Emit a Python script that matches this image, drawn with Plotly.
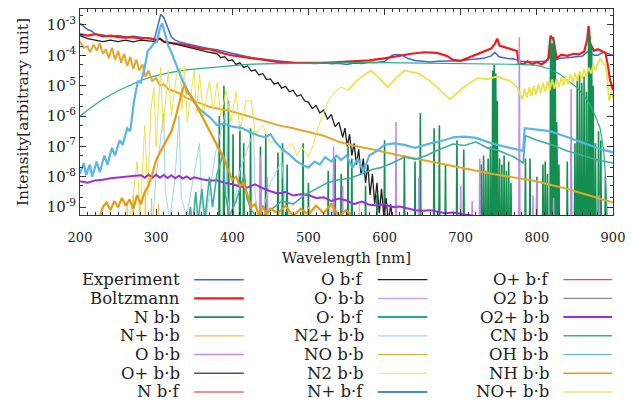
import plotly.graph_objects as go

# ---------------- data: (wavelength nm, log10 intensity) ----------------
experiment = [(200,-2.95),(205,-3.05),(210,-3.15),(215,-3.2),(220,-3.3),(230,-3.33),(240,-3.38),(250,-3.35),(260,-3.4),
    (270,-3.37),(280,-3.42),(290,-3.45),(298,-3.45),(302,-3.0),(306,-2.65),(310,-2.75),(315,-3.1),(320,-3.4),(325,-3.5),
    (330,-3.55),(340,-3.62),(350,-3.68),(360,-3.72),(370,-3.78),(380,-3.82),(390,-3.88),(400,-3.95),(410,-4.0),(420,-4.05),
    (430,-4.1),(440,-4.13),(450,-4.17),(460,-4.2),(470,-4.22),(480,-4.24),(490,-4.25),(500,-4.25),(510,-4.27),(520,-4.24),
    (530,-4.28),(540,-4.26),(550,-4.3),(560,-4.25),(570,-4.27),(580,-4.23),(590,-4.24),(600,-4.2),(605,-4.1),(610,-4.0),
    (615,-3.97),(620,-3.98),(625,-4.02),(630,-4.1),(640,-4.17),(650,-4.2),(660,-4.22),(670,-4.2),(680,-4.2),(690,-4.18),
    (700,-4.18),(710,-4.15),(720,-4.13),(730,-4.1),(740,-4.02),(745,-3.9),(750,-4.05),(760,-4.1),(770,-4.12),(775,-4.15),
    (780,-4.2),(790,-4.22),(800,-4.2),(810,-4.2),(815,-4.15),(820,-3.75),(825,-4.15),(830,-4.1),(840,-4.08),(850,-4.05),
    (860,-4.02),(868,-3.85),(875,-4.0),(880,-4.0),(887,-3.9),(893,-3.95),(900,-4.0)]
boltzmann = [(200,-3.3),(210,-3.35),(220,-3.3),(230,-3.38),(240,-3.35),(250,-3.4),(260,-3.42),(270,-3.4),(280,-3.45),
    (290,-3.43),(300,-3.5),(305,-3.45),(310,-3.55),(320,-3.6),(330,-3.62),(340,-3.68),(350,-3.72),(360,-3.78),(370,-3.8),
    (380,-3.88),(390,-3.95),(400,-4.0),(420,-4.08),(440,-4.15),(460,-4.22),(480,-4.25),(500,-4.26),(520,-4.25),(540,-4.22),
    (560,-4.2),(580,-4.17),(600,-4.1),(617,-4.02),(635,-3.95),(652,-3.9),(669,-3.92),(682,-4.02),(690,-4.15),(700,-4.18),
    (710,-4.08),(722,-3.96),(730,-3.88),(740,-3.78),(745,-3.62),(748,-3.45),(751,-3.68),(760,-3.75),(770,-3.82),(774,-3.86),
    (776,-4.25),(782,-4.3),(788,-4.2),(794,-4.3),(800,-4.22),(806,-4.3),(812,-4.2),(815,-4.1),(818,-3.35),(822,-3.5),
    (826,-4.1),(832,-3.98),(840,-4.02),(848,-3.95),(855,-3.97),(862,-3.88),(866,-3.5),(868,-3.03),(870,-3.6),(875,-3.85),
    (880,-3.8),(885,-3.85),(890,-3.92),(893,-4.3),(896,-4.8),(900,-5.15)]
o_bf = [(200,-3.35),(210,-3.45),(220,-3.5),(230,-3.55),(240,-3.5),(250,-3.55),(260,-3.5),(270,-3.56),(280,-3.5),(290,-3.53),
    (300,-3.55),(305,-3.45),(310,-3.55),(320,-3.6),(330,-3.66),(340,-3.72),(350,-3.8),(360,-3.85),(370,-3.9),(380,-3.95),
    (385,-4.08),(390,-4.05),(395,-4.18),(400,-4.15),(405,-4.3),(410,-4.25),(415,-4.4),(420,-4.35),(425,-4.52),(430,-4.48),
    (435,-4.65),(440,-4.6),(445,-4.8),(450,-4.78),(455,-4.95),(460,-4.9),(465,-5.08),(470,-5.02),(475,-5.2),(480,-5.15),
    (485,-5.35),(490,-5.3),(495,-5.5),(500,-5.55),(505,-5.75),(510,-5.65),(515,-5.9),(520,-5.8),(525,-6.1),(530,-5.95),
    (535,-6.35),(540,-6.2),(545,-6.7),(548,-6.4),(551,-7.0),(554,-6.6),(557,-7.3),(560,-6.9),(563,-7.6),(566,-7.1),
    (569,-7.9),(572,-7.4),(575,-8.2),(578,-7.6),(581,-8.6),(584,-7.9),(587,-8.9),(590,-8.2),(593,-9.2),(596,-8.4),
    (599,-9.3),(602,-8.7),(605,-9.5),(608,-8.9),(611,-9.6)]
oneg_bf = [(200,-6.0),(210,-5.8),(220,-5.62),(230,-5.45),(240,-5.3),(250,-5.17),(260,-5.05),(270,-4.93),(280,-4.83),
    (290,-4.74),(300,-4.67),(320,-4.56),(340,-4.48),(360,-4.43),(380,-4.38),(400,-4.33),(420,-4.3),(440,-4.28),(460,-4.27),
    (500,-4.25),(550,-4.24),(600,-4.24),(650,-4.25),(700,-4.26),(750,-4.28),(780,-4.3),(800,-4.33),(817,-4.45),(830,-4.62),
    (839,-4.8),(852,-5.05),(861,-5.3),(869,-5.6),(876,-5.95),(883,-6.4),(887,-7.0),(889,-7.5),(891,-8.5),(893,-9.6)]
no_bb = [(200,-3.55),(205,-3.75),(210,-3.7),(213,-3.9),(218,-3.65),(222,-3.85),(226,-3.6),(230,-3.95),(234,-3.8),
    (238,-4.1),(242,-3.75),(246,-4.15),(250,-3.85),(254,-4.25),(258,-3.95),(262,-4.35),(266,-4.05),(270,-4.45),(274,-4.15),
    (278,-4.5),(282,-4.3),(286,-4.7),(290,-4.5),(295,-4.85),(300,-4.75),(305,-5.0),(310,-4.95),(315,-5.1),(320,-5.15),
    (330,-5.25),(340,-5.4),(350,-5.5),(360,-5.62),(370,-5.7),(380,-5.75),(390,-5.8),(400,-5.85),(420,-6.0),(440,-6.15),
    (460,-6.3),(480,-6.4),(500,-6.52),(520,-6.65),(540,-6.85),(560,-6.98),(580,-7.08),(600,-7.2),(620,-7.3),(640,-7.4),
    (660,-7.5),(680,-7.6),(700,-7.72),(720,-7.8),(740,-7.9),(760,-7.98),(780,-8.07),(800,-8.15),(820,-8.28),(840,-8.4),
    (860,-8.55),(880,-8.7),(900,-8.85)]
nh_bb = [(225,-9.4),(230,-9.0),(235,-8.85),(240,-9.1),(245,-8.8),(250,-9.0),(255,-8.7),(260,-8.95),(265,-8.75),(270,-9.05),
    (275,-8.6),(280,-8.9),(285,-8.5),(290,-8.3),(295,-7.9),(300,-7.45),(305,-7.2),(310,-6.95),(315,-6.7),(320,-6.5),
    (325,-6.1),(330,-5.6),(335,-5.1),(338,-5.0),(341,-5.25),(345,-5.3),(350,-5.5),(355,-5.75),(360,-6.0),(365,-6.2),
    (370,-6.5),(375,-6.7),(380,-7.0),(385,-7.25),(390,-7.45),(395,-7.8),(400,-8.1),(405,-8.0),(410,-8.3),(415,-8.2),
    (420,-8.6),(425,-9.0),(430,-8.9),(435,-9.3),(440,-8.95),(445,-9.25),(450,-9.05),(460,-9.2),(470,-8.95),(480,-9.3),
    (490,-9.05),(500,-9.25),(510,-8.95),(520,-9.2),(530,-8.9),(540,-9.3),(550,-9.1),(560,-9.4),(570,-9.6)]
oh_bb = [(200,-7.9),(205,-7.55),(208,-7.95),(213,-7.6),(216,-8.0),(222,-7.5),(226,-7.85),(232,-7.3),(236,-7.6),(242,-7.05),
    (246,-7.3),(252,-6.8),(256,-6.95),(262,-6.4),(266,-6.5),(271,-5.5),(276,-4.85),(280,-4.9),(285,-4.4),(289,-3.85),
    (293,-3.75),(297,-3.6),(301,-3.55),(305,-3.1),(308,-2.95),(312,-3.3),(316,-3.7),(320,-3.9),(328,-4.4),(334,-4.8),
    (341,-5.15),(350,-5.55),(358,-5.8),(371,-6.05),(380,-6.3),(390,-6.25),(400,-6.35),(413,-6.4),(425,-6.55),(435,-6.65),
    (444,-6.7),(450,-6.6),(458,-6.9),(466,-7.1),(474,-7.25),(485,-7.5),(495,-7.65),(500,-7.7),(508,-7.5),(515,-7.6),
    (522,-7.35),(530,-7.5),(537,-7.3),(543,-7.45),(550,-7.3),(558,-7.7),(565,-7.4),(572,-7.85),(580,-7.3),(590,-7.15),
    (600,-6.95),(612,-6.9),(626,-6.95),(640,-7.05),(647,-7.0),(660,-6.9),(678,-6.8),(690,-6.7),(705,-6.68),(720,-6.72),
    (735,-6.85),(748,-6.95),(765,-7.05),(782,-7.15),(784,-6.4),(800,-6.45),(817,-6.5),(835,-6.65),(852,-6.8),(870,-6.95),
    (885,-7.1),(900,-7.2)]
cn_bb = [(340,-9.8),(345,-9.0),(348,-9.6),(352,-8.5),(355,-9.5),(360,-8.4),(364,-9.4),(370,-8.0),(374,-9.0),(380,-7.9),
    (385,-7.5),(388,-7.2),(391,-8.6),(396,-9.3),(405,-8.8),(412,-8.2),(416,-7.9),(419,-8.7),(425,-9.1),(435,-9.4),
    (450,-9.1),(465,-8.8),(480,-8.9),(495,-8.6),(510,-8.4),(525,-8.2),(540,-8.1),(555,-8.05),(570,-7.9),(585,-7.75),
    (595,-7.7),(610,-7.55),(626,-7.35),(640,-7.42),(655,-7.3),(670,-7.12),(690,-6.92),(705,-6.97),(720,-6.85),(735,-7.05),
    (748,-7.12),(760,-7.25),(770,-7.35),(782,-7.55),(785,-6.65),(800,-6.8),(820,-6.95),(840,-7.15),(860,-7.3),(880,-7.45),
    (900,-7.55)]
n2p_bb = [(295,-9.6),(300,-8.0),(310,-5.9),(312,-8.5),(318,-9.4),(325,-8.0),(330,-6.0),(333,-8.7),(340,-9.3),(352,-7.6),
    (357,-6.9),(360,-8.9),(365,-9.4),(378,-7.2),(388,-6.2),(391,-5.9),(393,-8.5),(398,-9.5),(410,-7.8),(424,-6.8),
    (428,-6.5),(430,-8.6),(436,-9.5),(450,-8.2),(465,-7.5),(470,-8.9),(480,-9.6)]
# N2 second-positive part (drawn thin) and first-positive part (drawn thick)
n2_bb_uv = [(265,-9.6),(275,-7.5),(279,-9.3),(285,-6.3),(289,-8.6),(293,-5.8),(297,-5.05),(300,-7.0),(306,-4.4),(309,-6.5),
    (316,-4.5),(320,-6.0),(327,-4.6),(332,-4.4),(334,-5.8),(337,-4.35),(341,-6.2),(350,-4.5),(353,-5.9),(357,-4.6),
    (362,-6.0),(370,-4.85),(375,-5.8),(380,-4.9),(385,-6.0),(392,-5.15),(398,-6.2),(405,-5.2),(410,-6.5),(418,-5.5),
    (425,-5.5),(430,-6.6),(440,-6.3),(450,-6.9),(457,-6.8),(465,-7.2),(478,-6.9),(485,-7.3),(491,-7.0),(500,-7.35),
    (507,-6.9),(513,-6.35),(520,-5.9),(526,-5.5),(535,-5.2),(543,-5.05),(552,-5.15)]
n2_bb_vis = [(552,-5.15),(565,-4.8),(582,-4.5),(593,-4.75),
    (604,-5.05),(615,-4.75),(626,-4.5),(645,-4.6),(660,-4.85),(669,-5.05),(686,-5.45),(695,-5.25),(704,-5.05),(722,-4.75),
    (735,-4.78),(748,-4.7),(765,-4.85),(774,-5.05),(778,-5.25),(781,-5.45),(784,-5.1),(787,-5.4),(790,-5.05),(793,-5.35),
    (796,-5.0),(799,-5.3),(802,-4.95),(805,-5.25),(808,-4.9),(811,-5.2),(814,-4.85),(817,-5.15),(820,-4.8),(823,-5.1),
    (826,-4.78),(829,-5.05),(832,-4.72),(835,-5.0),(838,-4.68),(841,-4.95),(844,-4.62),(847,-4.9),(850,-4.58),(853,-4.85),
    (856,-4.52),(859,-4.78),(862,-4.45),(865,-4.7),(868,-4.4),(871,-4.6),(874,-4.32),(877,-4.5),(880,-4.25),(883,-4.12),
    (887,-4.25),(891,-4.4),(895,-5.5),(898,-5.2),(900,-5.4)]
o2p_bb = [(200,-8.15),(210,-8.2),(220,-8.12),(230,-8.1),(240,-8.05),(250,-8.02),(260,-8.0),(270,-7.98),(280,-7.95),
    (285,-8.03),(290,-7.93),(295,-8.03),(300,-7.93),(305,-8.03),(310,-7.94),(315,-8.04),(320,-7.95),(325,-8.05),(330,-7.97),
    (335,-8.06),(340,-7.99),(345,-8.08),(350,-8.02),(360,-8.08),(370,-8.12),(380,-8.12),(390,-8.2),(400,-8.25),(410,-8.32),
    (420,-8.35),(430,-8.25),(440,-8.38),(450,-8.48),(460,-8.55),(470,-8.5),(480,-8.62),(490,-8.58),(500,-8.6),(510,-8.7),
    (520,-8.68),(530,-8.8),(540,-8.72),(550,-8.78),(560,-8.9),(570,-8.82),(580,-8.92),(590,-8.95),(600,-8.9),(610,-9.0),
    (620,-8.98),(630,-9.05),(640,-9.1),(650,-9.12),(660,-9.1),(670,-9.15),(680,-9.2),(690,-9.18),(700,-9.22),(710,-9.25),
    (720,-9.3)]
# line spectra: (line centre nm, peak log10 intensity)
n_bb_lines = [(383,-6.0),(389,-5.0),(395,-5.5),(401,-6.6),(410,-6.3),(415,-6.9),(424,-6.4),(437,-7.0),(444,-6.6),(460,-7.2),
    (466,-6.9),(472,-7.6),(493,-6.9),(500,-8.2),(526,-7.8),(535,-7.4),(543,-7.9),(552,-7.0),(557,-7.4),(575,-8.3),(590,-8.6),
    (600,-6.8),(626,-7.3),(640,-7.5),(647,-5.9),(665,-6.4),(672,-6.3),(680,-7.6),(695,-6.8),(704,-7.1),(727,-7.6),(730,-7.3),
    (733,-7.8),(736,-7.4),(739,-7.0),(742,-4.5),(744,-4.3),(746,-4.6),(748,-5.5),(751,-7.4),(754,-7.6),(757,-7.3),(760,-7.8),
    (763,-7.5),(766,-8.2),(785,-7.4),(791,-7.4),(800,-8.0),(808,-7.6),(811,-7.5),(814,-7.9),(818,-3.5),(820,-3.6),(822,-3.4),
    (824,-3.8),(826,-6.2),(829,-7.6),(840,-7.5),(845,-7.0),(850,-6.9),(853,-4.8),(856,-4.6),(859,-4.9),(862,-4.7),(865,-5.2),
    (868,-3.25),(870,-3.5),(872,-3.7),(874,-5.0),(877,-6.9),(881,-6.5),(884,-6.8),(890,-8.0)]
o_bb_lines = [(395,-8.8),(437,-7.3),(446,-8.0),(533,-7.0),(545,-8.3),(615,-6.2),(645,-8.0),(700,-8.3),(715,-8.8),(725,-7.4),
    (777,-3.4),(795,-8.6),(800,-8.1),(822,-8.7),(845,-5.1),(882,-8.6)]
np_bb_lines = [(262,-8.9),(270,-8.6),(278,-8.8),(286,-8.4),(294,-8.7),(303,-8.9),(500,-9.0),(567,-8.9)]

LINE_BASE = -10.5   # below the visible range
LINE_HALF = 0.8     # nm

# legend order: name, colour, legend/line width, list of (data, kind, drawn width)
series = [
    ("Experiment", "#4166d8", 1.5, [(experiment, "c", 1.5)]),
    ("Boltzmann", "#ee1c1c", 2.2, [(boltzmann, "c", 2.2)]),
    ("N b·b", "#148f4f", 1.8, [(n_bb_lines, "l", 1.6)]),
    ("N+ b·b", "#f2c24f", 1.2, [(np_bb_lines, "l", 1.2)]),
    ("O b·b", "#c08af0", 1.5, [(o_bb_lines, "l", 1.5)]),
    ("O+ b·b", "#3b5b7a", 1.5, []),
    ("N b·f", "#f06a6a", 1.5, []),
    ("O b·f", "#1e1e1e", 1.3, [(o_bf, "c", 1.3)]),
    ("O· b·b", "#c9a2f2", 1.5, []),
    ("O· b·f", "#26ad86", 2.0, [(oneg_bf, "c", 1.2)]),
    ("N2+ b·b", "#9fd2ef", 1.2, [(n2p_bb, "c", 1.0)]),
    ("NO b·b", "#e2a82a", 1.2, [(no_bb, "c", 2.0)]),
    ("N2 b·b", "#ede14a", 1.2, [(n2_bb_uv, "c", 1.0), (n2_bb_vis, "c", 1.8)]),
    ("N+ b·f", "#3f8fc4", 2.0, []),
    ("O+ b·f", "#e84a4a", 1.2, []),
    ("O2 b·b", "#8a8a8a", 1.2, []),
    ("O2+ b·b", "#9a2ee0", 2.0, [(o2p_bb, "c", 2.0)]),
    ("CN b·b", "#3fae98", 1.6, [(cn_bb, "c", 1.6)]),
    ("OH b·b", "#5ab6e6", 1.2, [(oh_bb, "c", 2.2)]),
    ("NH b·b", "#e69a10", 1.5, [(nh_bb, "c", 2.2)]),
    ("NO+ b·b", "#f3e562", 1.5, []),
]

fig = go.Figure()
for name, color, lw, parts in series:
    for data, kind, width in parts:
        xs, ys = [], []
        if kind == "c":
            xs = [p[0] for p in data]
            ys = [10 ** p[1] for p in data]
        else:
            for c, pk in data:
                xs += [c - LINE_HALF, c, c + LINE_HALF]
                ys += [10 ** LINE_BASE, 10 ** pk, 10 ** LINE_BASE]
        fig.add_trace(go.Scatter(x=xs, y=ys, mode="lines", name=name,
                                 line=dict(color=color, width=width), showlegend=False))

FONT = "DejaVu Serif"
W, H = 633, 403
L, R, T, B = 80, 16, 8, 188
pw, ph = W - L - R, H - T - B

def px_to_paper(xp, yp):
    return (xp - L) / pw, (H - B - yp) / ph

# hand-laid legend: 3 columns x 7 rows, right-aligned text with the line sample after it
col_text_right = [183, 368, 555]
col_line = [(195, 245), (380, 430), (567, 616)]
row_y = [280, 298.8, 317.6, 336.4, 355.2, 374, 392.8]
for i, (name, color, lw, _) in enumerate(series):
    c, r = divmod(i, 7)
    tx, ty = px_to_paper(col_text_right[c], row_y[r])
    fig.add_annotation(x=tx, y=ty, xref="paper", yref="paper", text=name, showarrow=False,
                       xanchor="right", yanchor="middle", font=dict(family=FONT, size=16.5, color="#222"))
    x0, y0 = px_to_paper(col_line[c][0], row_y[r])
    x1, _ = px_to_paper(col_line[c][1], row_y[r])
    fig.add_shape(type="line", xref="paper", yref="paper", x0=x0, x1=x1, y0=y0, y1=y0,
                  line=dict(color=color, width=lw))

yt_vals = [10 ** e for e in range(-9, -2)]
yt_text = ["10<sup>%d</sup>" % e for e in range(-9, -2)]

fig.update_layout(
    width=W, height=H, margin=dict(l=L, r=R, t=T, b=B),
    paper_bgcolor="white", plot_bgcolor="white",
    font=dict(family=FONT, color="#222"),
    xaxis=dict(range=[200, 900], tick0=200, dtick=100, ticks="inside", ticklen=6, tickcolor="#333",
               mirror="allticks", showline=True, linecolor="#333", linewidth=1, showgrid=False, zeroline=False,
               tickfont=dict(family=FONT, size=13), ticklabelstandoff=10,
               minor=dict(ticks="inside", ticklen=3, dtick=10, tickcolor="#333", showgrid=False),
               title=dict(text="Wavelength [nm]", font=dict(family=FONT, size=15), standoff=8)),
    yaxis=dict(type="log", range=[-9.26, -2.475], tickvals=yt_vals, ticktext=yt_text, ticks="inside", ticklen=6,
               tickcolor="#333", mirror="allticks", showline=True, linecolor="#333", linewidth=1, showgrid=False,
               zeroline=False, tickfont=dict(family=FONT, size=15), ticklabelstandoff=0,
               minor=dict(ticks="inside", ticklen=3, tickcolor="#333", showgrid=False),
               title=dict(text="Intensity[arbitrary unit]", font=dict(family=FONT, size=15.5), standoff=14)),
)

fig.write_html("out.html")
